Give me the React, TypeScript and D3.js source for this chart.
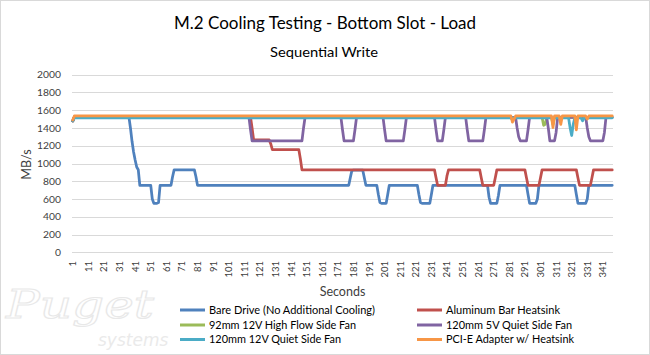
import React from "react";
import * as d3 from "d3";

// Seconds on the category axis
const N_SECONDS = 347;
const seconds: number[] = d3.range(1, N_SECONDS + 1);
const xTickLabels: number[] = d3.range(1, 342, 10);
const yTicks: number[] = [0, 200, 400, 600, 800, 1000, 1200, 1400, 1600, 1800, 2000];

// Values, as [second from which it holds, MB/s]
const bareDrive: [number, number][] = [
  [1, 1480], [2, 1525], [38, 1400], [39, 1250], [40, 1130], [41, 1040], [42, 960], [43, 930], [44, 755],
  [52, 600], [53, 552], [56, 560], [57, 755], [65, 850], [66, 928], [80, 850], [81, 755],
  [179, 840], [180, 920], [181, 925], [188, 840], [189, 755], [197, 650], [198, 560], [199, 552], [203, 650], [204, 755],
  [223, 650], [224, 560], [225, 552], [231, 650], [232, 755], [268, 620], [269, 552], [274, 640], [275, 755],
  [293, 650], [294, 552], [299, 600], [300, 755], [324, 650], [325, 552], [331, 600], [332, 755],
];
const aluminumBar: [number, number][] = [
  [1, 1480], [2, 1525], [116, 1400], [117, 1265], [128, 1220], [129, 1155], [147, 1050], [148, 928],
  [234, 840], [235, 755], [241, 860], [242, 928], [263, 840], [264, 755], [272, 840], [273, 928],
  [292, 840], [293, 755], [301, 840], [302, 928], [325, 840], [326, 755], [334, 840], [335, 928],
];
const fan92mm: [number, number][] = [
  [1, 1480], [2, 1520], [283, 1490], [284, 1520], [303, 1430], [304, 1440], [305, 1520], [309, 1440], [310, 1520],
];
const fan120mm5V: [number, number][] = [
  [1, 1480], [2, 1520], [115, 1380], [116, 1255], [149, 1400], [150, 1520], [174, 1380], [175, 1255], [182, 1380], [183, 1520],
  [201, 1380], [202, 1255], [214, 1380], [215, 1520], [234, 1380], [235, 1255], [239, 1380], [240, 1520],
  [254, 1380], [255, 1255], [265, 1380], [266, 1520], [286, 1400], [287, 1300], [288, 1255], [293, 1380], [294, 1520],
  [306, 1400], [307, 1255], [311, 1350], [312, 1520], [331, 1400], [332, 1300], [333, 1255], [342, 1350], [343, 1520],
];
const fan120mm12V: [number, number][] = [
  [1, 1480], [2, 1515], [320, 1400], [321, 1315], [322, 1440], [323, 1515], [328, 1480], [329, 1515],
];
const pcieAdapter: [number, number][] = [
  [1, 1490], [2, 1535], [283, 1465], [284, 1500], [285, 1535], [309, 1405], [310, 1535], [314, 1440], [315, 1535],
  [324, 1378], [325, 1535], [331, 1500], [332, 1535],
];

const seriesNames: string[] = [
  "Bare Drive (No Additional Cooling)",
  "Aluminum Bar Heatsink",
  "92mm 12V High Flow Side Fan",
  "120mm 5V Quiet Side Fan",
  "120mm 12V Quiet Side Fan",
  "PCI-E Adapter w/ Heatsink",
];
const seriesColors: string[] = ["#4F81BD", "#C0504D", "#9BBB59", "#8064A2", "#4BACC6", "#F79646"];
const seriesBreaks = [bareDrive, aluminumBar, fan92mm, fan120mm5V, fan120mm12V, pcieAdapter];

function expand(breaks: [number, number][]): number[] {
  return seconds.map((s) => {
    let v = breaks[0][1];
    for (const [start, val] of breaks) if (start <= s) v = val;
    return v;
  });
}

const FONT = "Lato, 'Open Sans', sans-serif";

export default function App() {
  const W = 650, H = 355;
  const plotLeft = 72, plotRight = 613, plotTop = 74.7, plotBottom = 252.3;
  const x = d3.scaleBand<number>().domain(seconds).range([plotLeft, plotRight]);
  const xc = (s: number) => (x(s) as number) + x.bandwidth() / 2;
  const y = d3.scaleLinear().domain([0, 2000]).range([plotBottom, plotTop]);
  const line = d3.line<number>().x((_, i) => xc(seconds[i])).y((v) => y(v)).curve(d3.curveLinear);

  const legendItems = [
    { col: 0, row: 0, len: 166 },
    { col: 1, row: 0, len: 114 },
    { col: 0, row: 1, len: 147 },
    { col: 1, row: 1, len: 126 },
    { col: 0, row: 2, len: 132 },
    { col: 1, row: 2, len: 128 },
  ];
  const legendRowY = [310, 325, 339.5];
  const legendColX = [180, 417];

  return (
    <svg width={W} height={H} style={{ position: "absolute", left: 0, top: 0, background: "#fff" }} fontFamily={FONT}>
      <rect x={0.5} y={0.5} width={W - 1} height={H - 1} fill="#fff" stroke="#d9d9d9" />
      {/* watermark */}
      <text x={6} y={318} fontFamily="'DejaVu Serif', serif" fontStyle="italic" fontSize={40} fill="none" stroke="#e8e8e8" strokeWidth={1.1} textLength={148} lengthAdjust="spacingAndGlyphs">Puget</text>
      <text x={98} y={346} fontFamily="'DejaVu Sans', sans-serif" fontStyle="italic" fontSize={17} fill="#eaeaea">systems</text>

      <text x={325} y={28.5} textAnchor="middle" fontSize={17.5} fill="#000" textLength={302} lengthAdjust="spacingAndGlyphs">M.2 Cooling Testing - Bottom Slot - Load</text>
      <text x={324} y={57} textAnchor="middle" fontSize={13.5} fill="#000" textLength={108} lengthAdjust="spacingAndGlyphs">Sequential Write</text>

      {yTicks.map((t) => (
        <g key={t}>
          <line x1={plotLeft} x2={plotRight} y1={Math.round(y(t)) + 0.5} y2={Math.round(y(t)) + 0.5} stroke="#d9d9d9" strokeWidth={1} />
          <text x={61} y={y(t) + 3.7} textAnchor="end" fontSize={10.3} fill="#404040">{t}</text>
        </g>
      ))}
      {xTickLabels.map((s) => (
        <text key={s} transform={`translate(${xc(s) + 3.5},261) rotate(-90)`} textAnchor="end" fontSize={9.5} fill="#404040">{s}</text>
      ))}
      <text transform="translate(31,164.5) rotate(-90)" textAnchor="middle" fontSize={12.5} fill="#404040">MB/s</text>
      <text x={342.5} y={296} textAnchor="middle" fontSize={12.5} fill="#404040">Seconds</text>

      {seriesBreaks.map((b, k) => (
        <path key={k} d={line(expand(b)) as string} fill="none" stroke={seriesColors[k]} strokeWidth={2.75} strokeLinejoin="round" strokeLinecap="round" />
      ))}

      {legendItems.map((it, k) => (
        <g key={k}>
          <line x1={legendColX[it.col]} x2={legendColX[it.col] + 25} y1={legendRowY[it.row]} y2={legendRowY[it.row]} stroke={seriesColors[k]} strokeWidth={3} />
          <text x={legendColX[it.col] + 29} y={legendRowY[it.row] + 3.8} fontSize={10.8} fill="#000" textLength={it.len} lengthAdjust="spacingAndGlyphs">{seriesNames[k]}</text>
        </g>
      ))}
    </svg>
  );
}
